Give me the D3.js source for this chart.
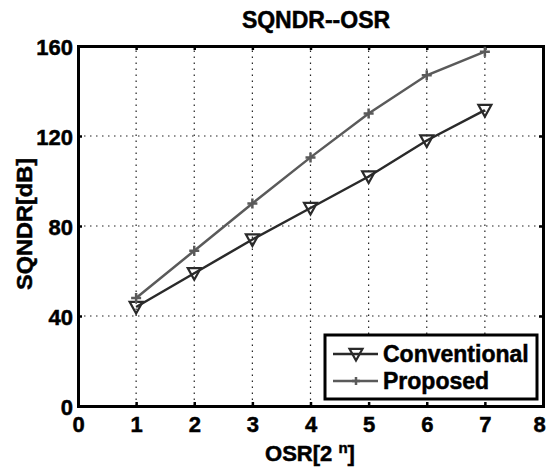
<!DOCTYPE html>
<html><head><meta charset="utf-8">
<script src="https://cdn.jsdelivr.net/npm/d3@7"></script>
<style>body{margin:0;background:#fff}svg{display:block}text{font-family:"Liberation Sans",Arial,sans-serif !important;font-weight:bold !important;stroke:#000;stroke-width:0.5px}</style>
</head><body>
<script>
const osr = [1,2,3,4,5,6,7];
const conventional = [44,59,74,88,102,118,131.5];
const proposed = [48,69,90,110.5,130,147,157.5];
const xTicks = [0,1,2,3,4,5,6,7,8];
const yTicks = [0,40,80,120,160];
const seriesNames = ["Conventional","Proposed"];

const W=546,H=469;
const m={l:78,r:3,t:46,b:63};
const svg=d3.select("body").append("svg").attr("width",W).attr("height",H);
const x=d3.scaleLinear().domain([0,8]).range([m.l,W-m.r]);
const y=d3.scaleLinear().domain([0,160]).range([H-m.b,m.t]);
const x0=x(0),x1=x(8),y0=y(0),y1=y(160);

// grid
const g=svg.append("g");
xTicks.slice(1,-1).forEach(t=>g.append("line").attr("x1",x(t)).attr("x2",x(t)).attr("y1",y0).attr("y2",y1)
  .attr("stroke","#222").attr("stroke-width",1.2).attr("stroke-dasharray","1.5,4.5"));
yTicks.slice(1,-1).forEach(t=>g.append("line").attr("y1",y(t)).attr("y2",y(t)).attr("x1",x0).attr("x2",x1)
  .attr("stroke","#222").attr("stroke-width",1.2).attr("stroke-dasharray","1.5,4.5"));

// axes
const xa=svg.append("g").attr("transform",`translate(0,${y0})`).call(d3.axisBottom(x).tickValues(xTicks).tickSize(-4).tickPadding(10));
const xt=svg.append("g").attr("transform",`translate(0,${y1})`).call(d3.axisTop(x).tickValues(xTicks).tickSize(-4).tickFormat(""));
const ya=svg.append("g").attr("transform",`translate(${x0},0)`).call(d3.axisLeft(y).tickValues(yTicks).tickSize(-4).tickPadding(5));
const yr=svg.append("g").attr("transform",`translate(${x1},0)`).call(d3.axisRight(y).tickValues(yTicks).tickSize(-4).tickFormat(""));
[xa,xt,ya,yr].forEach(a=>{a.select(".domain").attr("stroke","#000").attr("stroke-width",3);
  a.selectAll(".tick line").attr("stroke","#000").attr("stroke-width",2.5);
  a.selectAll("text").attr("font-size",22).attr("fill","#000");});
xa.selectAll("text").attr("dy","0.71em");
ya.selectAll("text").attr("dy","0.38em");
xa.selectAll(".tick").filter(d=>d===8).select("text").attr("dx",-4);

const line=d3.line().x((d,i)=>x(osr[i])).y(d=>y(d));
const colC="#2a2a2a", colP="#5a5a5a";
svg.append("path").datum(conventional).attr("d",line).attr("fill","none").attr("stroke",colC).attr("stroke-width",2.5);
svg.append("path").datum(proposed).attr("d",line).attr("fill","none").attr("stroke",colP).attr("stroke-width",2.5);

const tri=(cx,cy,s)=>`M${cx-s},${cy-s*0.8}L${cx+s},${cy-s*0.8}L${cx},${cy+s}Z`;
conventional.forEach((v,i)=>svg.append("path").attr("d",tri(x(osr[i]),y(v),6.5)).attr("fill","none").attr("stroke",colC).attr("stroke-width",2.2));
const plus=(cx,cy,s)=>`M${cx-s},${cy}L${cx+s},${cy}M${cx},${cy-s}L${cx},${cy+s}`;
proposed.forEach((v,i)=>svg.append("path").attr("d",plus(x(osr[i]),y(v),5)).attr("stroke",colP).attr("stroke-width",2.5));

// legend
const lg=svg.append("g");
lg.append("rect").attr("x",325).attr("y",335).attr("width",212).attr("height",64).attr("fill","#fff").attr("stroke","#000").attr("stroke-width",3);
[[colC,0],[colP,1]].forEach(([c,i])=>{
  const ly=354+i*27;
  lg.append("line").attr("x1",333).attr("x2",378).attr("y1",ly).attr("y2",ly).attr("stroke",c).attr("stroke-width",2.5);
  if(i===0) lg.append("path").attr("d",tri(356,ly,6.5)).attr("fill","none").attr("stroke",c).attr("stroke-width",2.2);
  else lg.append("path").attr("d",plus(356,ly,4)).attr("stroke",c).attr("stroke-width",2.5);
  lg.append("text").attr("x",383).attr("y",ly+8).attr("font-size",23).attr("fill","#000").text(seriesNames[i]);
});

svg.append("text").attr("x",316).attr("y",28).attr("text-anchor","middle").attr("font-size",23).text("SQNDR--OSR");
svg.append("text").attr("transform",`translate(32,224) rotate(-90)`).attr("text-anchor","middle").attr("font-size",22)
  .attr("textLength",132).attr("lengthAdjust","spacingAndGlyphs").text("SQNDR[dB]");
const xl=svg.append("text").attr("x",310).attr("y",461).attr("text-anchor","middle").attr("font-size",22);
xl.append("tspan").text("OSR[2 ");
xl.append("tspan").attr("dy",-8).attr("font-size",15).text("n");
xl.append("tspan").attr("dy",8).text("]");
</script>
</body></html>
